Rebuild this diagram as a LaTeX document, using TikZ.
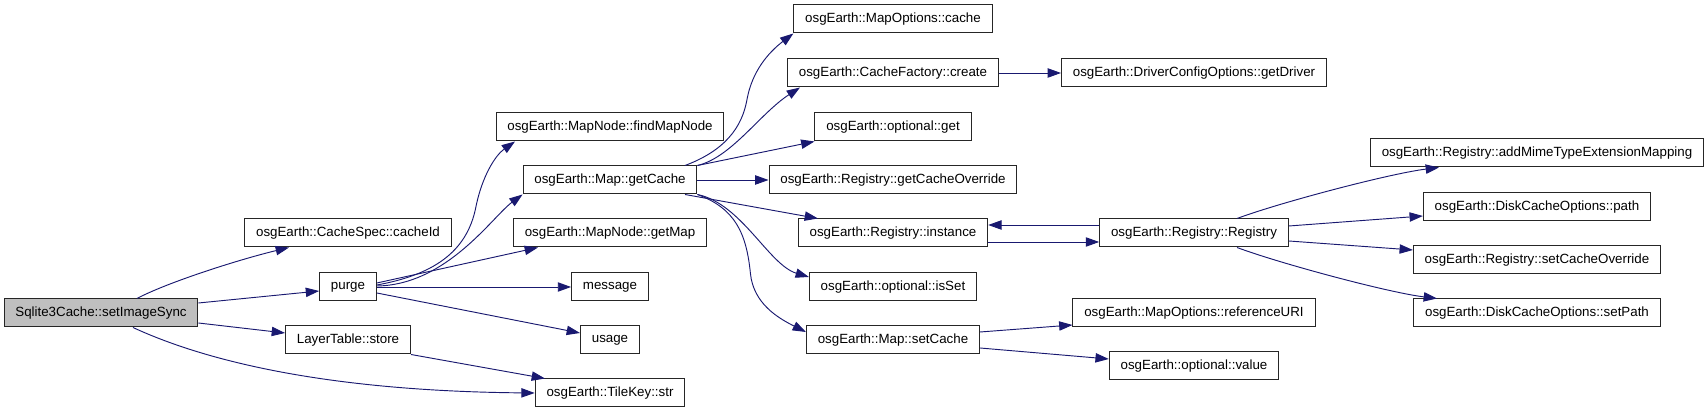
\documentclass[tikz,border=0pt]{standalone}
\usepackage{fontspec}
\setmainfont{Liberation Sans}
\usepackage{tikz}
\usetikzlibrary{arrows.meta,calc}
\definecolor{edgeblue}{HTML}{191970}
\definecolor{rootgray}{HTML}{BFBFBF}

\begin{document}
\begin{tikzpicture}[x=0.75pt,y=0.75pt,>={Triangle[length=10pt,width=7pt]},
  fn/.style={draw=black!85,line width=0.75pt,fill=white,minimum height=21pt,inner xsep=8.5pt,inner ysep=0pt,font=\fontsize{10}{12}\selectfont},
  call/.style={->,draw=edgeblue,line width=0.7pt}]
\useasboundingbox (0,0) rectangle (1707,413);
\node[fn,fill=rootgray] (root) at (101,100) {Sqlite3Cache::setImageSync};
\node[fn] (cacheid) at (348,180) {osgEarth::CacheSpec::cacheId};
\node[fn] (purge) at (348,126) {purge};
\node[fn] (store) at (348,73) {LayerTable::store};
\node[fn] (findmap) at (610,286) {osgEarth::MapNode::findMapNode};
\node[fn] (getcache) at (610,233) {osgEarth::Map::getCache};
\node[fn] (getmap) at (610,180) {osgEarth::MapNode::getMap};
\node[fn] (message) at (610,126) {message};
\node[fn] (usage) at (610,73) {usage};
\node[fn] (tilekey) at (610,20) {osgEarth::TileKey::str};
\node[fn] (optcache) at (893,394) {osgEarth::MapOptions::cache};
\node[fn] (factory) at (893,340) {osgEarth::CacheFactory::create};
\node[fn] (optget) at (893,286) {osgEarth::optional::get};
\node[fn] (getoverride) at (893,233) {osgEarth::Registry::getCacheOverride};
\node[fn] (instance) at (893,180) {osgEarth::Registry::instance};
\node[fn] (isset) at (893,126) {osgEarth::optional::isSet};
\node[fn] (setcache) at (893,73) {osgEarth::Map::setCache};
\node[fn] (getdriver) at (1194,340) {osgEarth::DriverConfigOptions::getDriver};
\node[fn] (registry) at (1194,180) {osgEarth::Registry::Registry};
\node[fn] (refuri) at (1194,100) {osgEarth::MapOptions::referenceURI};
\node[fn] (optvalue) at (1194,47) {osgEarth::optional::value};
\node[fn] (addmime) at (1537,260) {osgEarth::Registry::addMimeTypeExtensionMapping};
\node[fn] (diskpath) at (1537,206) {osgEarth::DiskCacheOptions::path};
\node[fn] (setoverride) at (1537,153) {osgEarth::Registry::setCacheOverride};
\node[fn] (setpath) at (1537,100) {osgEarth::DiskCacheOptions::setPath};

\draw[call] ($(root.north)+(36,0)$) .. controls +(30,16) and +(-50,-12) .. ($(cacheid.south)+(-59,0)$);
\draw[call] ($(root.east)+(0,10)$) -- ($(purge.west)+(0,-4)$);
\draw[call] ($(root.east)+(0,-10)$) -- ($(store.west)+(0,7)$);
\draw[call] ($(root.south)+(32,0)$) .. controls +(67,-31) and +(-216,2) .. (tilekey.west);

\draw[call] ($(purge.east)+(0,2)$) .. controls +(55,10) and +(-9,-46) .. ++(99,78)
  .. controls +(6,30) and +(-20,-14) .. ($(findmap.south)+(-95,0)$);
\draw[call] ($(purge.east)+(0,1)$) .. controls +(70,1) and +(-30,-22) .. (getcache.south west);
\draw[call] ($(purge.east)+(0,4)$) -- ($(getmap.south)+(-72,0)$);
\draw[call] (purge) -- (message);
\draw[call] ($(purge.east)+(0,-6)$) -- ($(usage.west)+(0,7)$);
\draw[call] (store.south east) -- ($(tilekey.north)+(-65,0)$);

\draw[call] ($(getcache.north)+(75,0)$) .. controls +(40,15) and +(-5,-28) .. ++(62,66)
  .. controls +(5,28) and +(-25,-19) .. (optcache.south west);
\draw[call] (getcache.north east) .. controls +(34,8) and +(-40,-26) .. ($(factory.south)+(-93,0)$);
\draw[call] (getcache.north east) -- (optget.south west);
\draw[call] (getcache) -- (getoverride);
\draw[call] ($(getcache.south)+(75,0)$) -- ($(instance.north)+(-75,0)$);
\draw[call] (getcache.south east) .. controls +(44,-9) and +(-40,12) .. ($(isset.west)+(0,10)$);
\draw[call] (getcache.south east) .. controls +(38,-14) and +(-4,40) .. ++(53,-79)
  .. controls +(3,-30) and +(-28,14) .. ($(setcache.west)+(0,8)$);

\draw[call] (factory) -- (getdriver);
\draw[call] ($(registry.west)+(0,8)$) -- ($(instance.east)+(0,8)$);
\draw[call] ($(instance.east)+(0,-9)$) -- ($(registry.west)+(0,-9)$);
\draw[call] ($(setcache.east)+(0,8)$) -- ($(refuri.west)+(0,-12)$);
\draw[call] ($(setcache.east)+(0,-8)$) -- ($(optvalue.west)+(0,7)$);

\draw[call] ($(registry.north)+(43,0)$) .. controls +(43,16) and +(-49,-6) .. ($(addmime.south)+(-98,0)$);
\draw[call] ($(registry.east)+(0,7)$) -- ($(diskpath.west)+(0,-9)$);
\draw[call] ($(registry.east)+(0,-8)$) -- ($(setoverride.west)+(0,10)$);
\draw[call] ($(registry.south)+(43,0)$) .. controls +(43,-16) and +(-49,6) .. ($(setpath.north)+(-100,0)$);
\end{tikzpicture}
\end{document}
